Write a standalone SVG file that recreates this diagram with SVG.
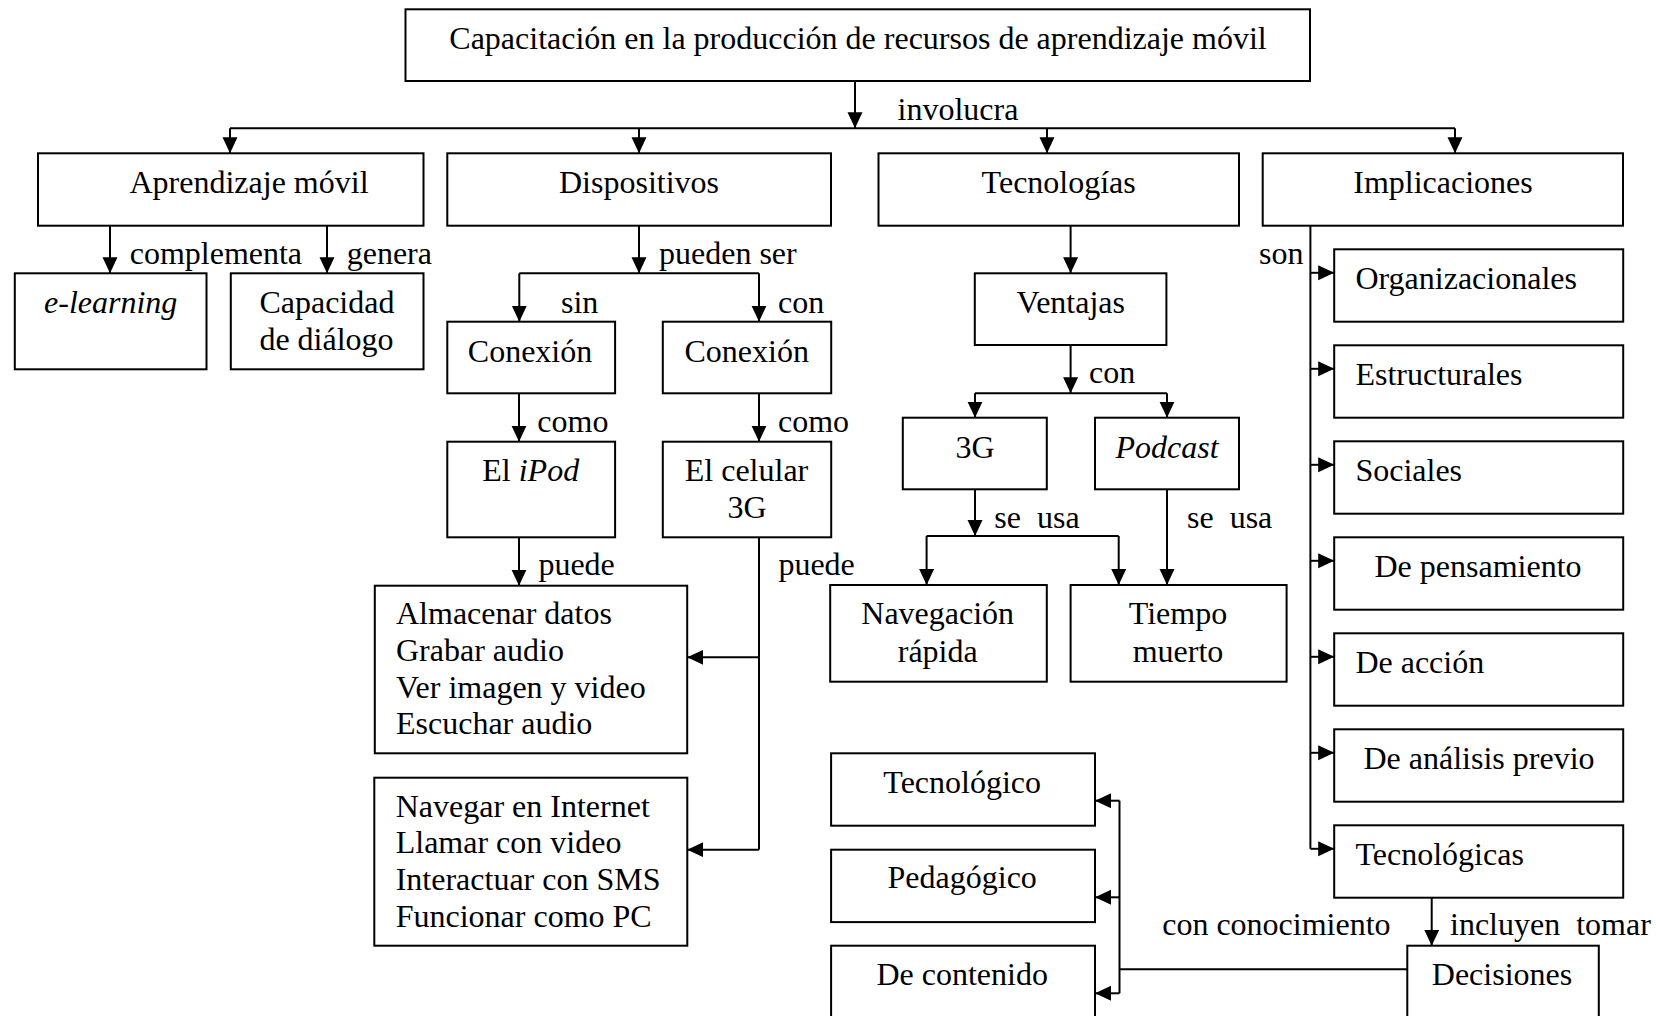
<svg xmlns="http://www.w3.org/2000/svg" width="1656" height="1016" viewBox="0 0 1656 1016">
<style>
rect.b{fill:#fff;stroke:#000;stroke-width:2}
text{font-family:"Liberation Serif","Times New Roman",serif;font-size:32px;fill:#000}
.m{text-anchor:middle}
.i{font-style:italic}
.c line,.c polyline{stroke:#000;stroke-width:2;fill:none}
.a{marker-end:url(#ah)}
</style>
<defs>
<marker id="ah" markerUnits="userSpaceOnUse" markerWidth="18" markerHeight="16" refX="16" refY="7.5" orient="auto">
<path d="M0,0 L16,7.5 L0,15 z" fill="#000"/>
</marker>
</defs>
<rect width="1656" height="1016" fill="#fff"/>

<g class="c" id="connectors">
<line x1="855" y1="81" x2="855" y2="128.3" class="a"/>
<line x1="230" y1="128.3" x2="1455" y2="128.3"/>
<line x1="230" y1="128.3" x2="230" y2="153.3" class="a"/>
<line x1="639" y1="128.3" x2="639" y2="153.3" class="a"/>
<line x1="1047" y1="128.3" x2="1047" y2="153.3" class="a"/>
<line x1="1455" y1="128.3" x2="1455" y2="153.3" class="a"/>
<line x1="110" y1="225.7" x2="110" y2="273.3" class="a"/>
<line x1="327" y1="225.7" x2="327" y2="273.3" class="a"/>
<line x1="639" y1="225.7" x2="639" y2="273.3" class="a"/>
<line x1="519.3" y1="273.3" x2="759" y2="273.3"/>
<line x1="519.3" y1="273.3" x2="519.3" y2="321.7" class="a"/>
<line x1="759" y1="273.3" x2="759" y2="321.7" class="a"/>
<line x1="519" y1="393.3" x2="519" y2="441.7" class="a"/>
<line x1="759" y1="393.3" x2="759" y2="441.7" class="a"/>
<line x1="519" y1="537.3" x2="519" y2="585.7" class="a"/>
<line x1="759" y1="537.3" x2="759" y2="849.7"/>
<line x1="759" y1="657.3" x2="687.2" y2="657.3" class="a"/>
<line x1="759" y1="849.7" x2="687.3" y2="849.7" class="a"/>
<line x1="1070.6" y1="225.7" x2="1070.6" y2="273.3" class="a"/>
<line x1="1070.6" y1="345" x2="1070.6" y2="393.3" class="a"/>
<line x1="975" y1="393.3" x2="1167" y2="393.3"/>
<line x1="975" y1="393.3" x2="975" y2="417.7" class="a"/>
<line x1="1167" y1="393.3" x2="1167" y2="417.7" class="a"/>
<line x1="975" y1="489.3" x2="975" y2="536" class="a"/>
<line x1="926.6" y1="536" x2="1118.7" y2="536"/>
<line x1="926.6" y1="536" x2="926.6" y2="585" class="a"/>
<line x1="1118.7" y1="536" x2="1118.7" y2="585" class="a"/>
<line x1="1167" y1="489.3" x2="1167" y2="585" class="a"/>
<line x1="1310.4" y1="225.7" x2="1310.4" y2="848.8"/>
<line x1="1310.4" y1="272.8" x2="1334.2" y2="272.8" class="a"/>
<line x1="1310.4" y1="368.8" x2="1334.2" y2="368.8" class="a"/>
<line x1="1310.4" y1="464.8" x2="1334.2" y2="464.8" class="a"/>
<line x1="1310.4" y1="560.8" x2="1334.2" y2="560.8" class="a"/>
<line x1="1310.4" y1="656.8" x2="1334.2" y2="656.8" class="a"/>
<line x1="1310.4" y1="752.8" x2="1334.2" y2="752.8" class="a"/>
<line x1="1310.4" y1="848.8" x2="1334.2" y2="848.8" class="a"/>
<line x1="1431.7" y1="897.3" x2="1431.7" y2="945.7" class="a"/>
<line x1="1407.3" y1="969.3" x2="1119.5" y2="969.3"/>
<line x1="1119.5" y1="800.7" x2="1119.5" y2="993.3"/>
<line x1="1119.5" y1="800.7" x2="1095" y2="800.7" class="a"/>
<line x1="1119.5" y1="897.3" x2="1095" y2="897.3" class="a"/>
<line x1="1119.5" y1="993.3" x2="1095" y2="993.3" class="a"/>
</g>

<g id="labels">
<text x="897.5" y="120">involucra</text>
<text x="129.7" y="264">complementa</text>
<text x="346.7" y="264">genera</text>
<text x="659" y="264">pueden ser</text>
<text x="561" y="312.5">sin</text>
<text x="778" y="312.5">con</text>
<text x="537.3" y="431.7">como</text>
<text x="778" y="431.7">como</text>
<text x="538.4" y="575">puede</text>
<text x="778.4" y="575">puede</text>
<text x="1089" y="383.3">con</text>
<text x="994.3" y="527.7" xml:space="preserve">se  usa</text>
<text x="1187" y="527.7" xml:space="preserve">se  usa</text>
<text x="1259" y="264.3">son</text>
<text x="1450" y="935" xml:space="preserve">incluyen  tomar</text>
<text x="1162.2" y="935">con conocimiento</text>
</g>

<g id="n-titulo"><rect class="b" x="405.5" y="9.3" width="904.5" height="71.7"/><text class="m" x="858" y="48.5">Capacitación en la producción de recursos de aprendizaje móvil</text></g>
<g id="n-aprendizaje"><rect class="b" x="38" y="153.3" width="385.5" height="72.4"/><text class="m" x="249" y="192.7">Aprendizaje móvil</text></g>
<g id="n-dispositivos"><rect class="b" x="447.3" y="153.3" width="383.7" height="72.4"/><text class="m" x="639" y="192.7">Dispositivos</text></g>
<g id="n-tecnologias"><rect class="b" x="878.5" y="153.3" width="360.5" height="72.4"/><text class="m" x="1058.7" y="192.7">Tecnologías</text></g>
<g id="n-implicaciones"><rect class="b" x="1262.7" y="153.3" width="360.3" height="72.4"/><text class="m" x="1443" y="192.7">Implicaciones</text></g>

<g id="n-elearning"><rect class="b" x="14.8" y="273.3" width="191.7" height="96"/><text class="m i" x="110.7" y="313.3">e-learning</text></g>
<g id="n-capacidad"><rect class="b" x="230.8" y="273.3" width="192.7" height="96"/><text x="259.4" y="312.7">Capacidad</text><text x="259.4" y="350">de diálogo</text></g>

<g id="n-conexion-sin"><rect class="b" x="447.3" y="321.7" width="167.8" height="71.6"/><text class="m" x="530" y="361.7">Conexión</text></g>
<g id="n-conexion-con"><rect class="b" x="662.8" y="321.7" width="168.4" height="71.6"/><text class="m" x="746.7" y="361.7">Conexión</text></g>
<g id="n-ipod"><rect class="b" x="447.3" y="441.7" width="167.8" height="95.6"/><text class="m" x="530.7" y="481">El <tspan class="i">iPod</tspan></text></g>
<g id="n-celular"><rect class="b" x="662.8" y="441.7" width="168.4" height="95.6"/><text class="m" x="746.5" y="481">El celular</text><text class="m" x="747" y="517.7">3G</text></g>
<g id="n-ipod-puede"><rect class="b" x="374.8" y="585.7" width="312.4" height="167.6"/>
<text x="396" y="624.3">Almacenar datos</text><text x="396" y="661">Grabar audio</text><text x="396" y="697.7">Ver imagen y video</text><text x="396" y="734.4">Escuchar audio</text></g>
<g id="n-celular-puede"><rect class="b" x="374.3" y="777.7" width="313" height="168"/>
<text x="395.7" y="816.7">Navegar en Internet</text><text x="395.7" y="853.3">Llamar con video</text><text x="395.7" y="890">Interactuar con SMS</text><text x="395.7" y="926.7">Funcionar como PC</text></g>

<g id="n-ventajas"><rect class="b" x="974.8" y="273.3" width="191.6" height="71.7"/><text class="m" x="1070.8" y="313.3">Ventajas</text></g>
<g id="n-3g"><rect class="b" x="902.8" y="417.7" width="144" height="71.6"/><text class="m" x="975" y="457.7">3G</text></g>
<g id="n-podcast"><rect class="b" x="1095" y="417.7" width="144" height="71.6"/><text class="m i" x="1167" y="457.7">Podcast</text></g>
<g id="n-navegacion"><rect class="b" x="830.2" y="585" width="216.6" height="96.7"/><text class="m" x="937.7" y="624.3">Navegación</text><text class="m" x="937.7" y="661.7">rápida</text></g>
<g id="n-tiempo"><rect class="b" x="1070.6" y="585" width="216" height="96.7"/><text class="m" x="1178" y="624.3">Tiempo</text><text class="m" x="1178" y="661.7">muerto</text></g>

<g id="n-organizacionales"><rect class="b" x="1334.2" y="249.3" width="289" height="72.4"/><text x="1355.4" y="289.3">Organizacionales</text></g>
<g id="n-estructurales"><rect class="b" x="1334.2" y="345.3" width="289" height="72.4"/><text x="1355.4" y="385.3">Estructurales</text></g>
<g id="n-sociales"><rect class="b" x="1334.2" y="441.3" width="289" height="72.4"/><text x="1355.4" y="481.3">Sociales</text></g>
<g id="n-pensamiento"><rect class="b" x="1334.2" y="537.3" width="289" height="72.4"/><text class="m" x="1478" y="577.3">De pensamiento</text></g>
<g id="n-accion"><rect class="b" x="1334.2" y="633.3" width="289" height="72.4"/><text x="1355.4" y="673.3">De acción</text></g>
<g id="n-analisis"><rect class="b" x="1334.2" y="729.3" width="289" height="72.4"/><text class="m" x="1479" y="769.3">De análisis previo</text></g>
<g id="n-tecnologicas"><rect class="b" x="1334.2" y="825.3" width="289" height="72.4"/><text x="1355.5" y="865.3">Tecnológicas</text></g>

<g id="n-decisiones"><rect class="b" x="1407.3" y="945.7" width="191.5" height="100"/><text class="m" x="1502" y="985">Decisiones</text></g>
<g id="n-tecnologico"><rect class="b" x="831.1" y="753.3" width="263.9" height="72.4"/><text class="m" x="962.2" y="792.7">Tecnológico</text></g>
<g id="n-pedagogico"><rect class="b" x="831.1" y="849.7" width="263.9" height="72.4"/><text class="m" x="962.2" y="888.3">Pedagógico</text></g>
<g id="n-contenido"><rect class="b" x="831.1" y="945.7" width="263.9" height="100"/><text class="m" x="962.2" y="985">De contenido</text></g>
</svg>
